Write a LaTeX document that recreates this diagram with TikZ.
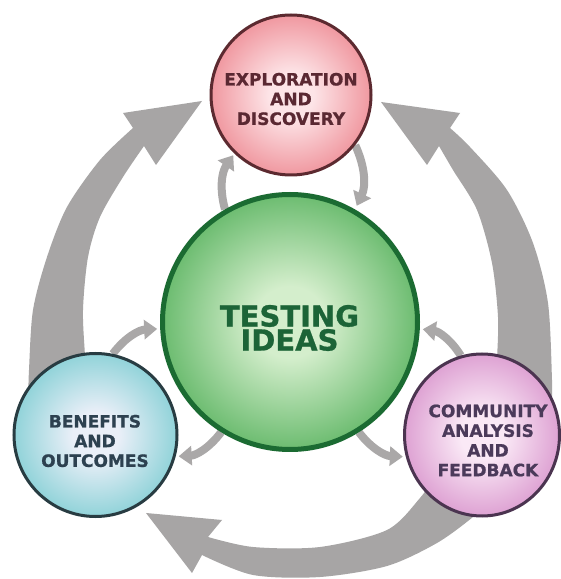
\documentclass[tikz,border=0pt]{standalone}
\usepackage{fontspec}
\setmainfont{DejaVu Sans}[BoldFeatures={FakeBold=0.9}]
\usetikzlibrary{arrows.meta,shapes.geometric,backgrounds}
\definecolor{arrowgray}{RGB}{167,165,165}
\definecolor{smallgray}{RGB}{170,168,168}
\definecolor{explIn}{RGB}{253,228,231}
\definecolor{explOut}{RGB}{240,152,160}
\definecolor{explBd}{RGB}{92,42,48}
\definecolor{explTx}{RGB}{90,40,50}
\definecolor{testIn}{RGB}{212,238,204}
\definecolor{testOut}{RGB}{108,188,112}
\definecolor{testBd}{RGB}{27,107,50}
\definecolor{testTx}{RGB}{28,100,55}
\definecolor{beneIn}{RGB}{234,239,248}
\definecolor{beneOut}{RGB}{145,211,217}
\definecolor{beneBd}{RGB}{40,60,66}
\definecolor{beneTx}{RGB}{45,65,80}
\definecolor{commIn}{RGB}{250,233,246}
\definecolor{commOut}{RGB}{222,162,211}
\definecolor{commBd}{RGB}{75,52,80}
\definecolor{commTx}{RGB}{75,58,90}
\colorlet{shIn}{white}
\colorlet{shOut}{gray}
\pgfdeclareradialshading[shIn,shOut]{softradial}{\pgfpointorigin}{color(0bp)=(shIn); color(7bp)=(shIn); color(25bp)=(shOut); color(50bp)=(shOut)}
\tikzset{
  bubble/.style={circle, line width=3pt, inner sep=0pt},
  soft/.style 2 args={/utils/exec={\colorlet{shIn}{#1}\colorlet{shOut}{#2}}, shading=softradial},
  smalltext/.style={font=\bfseries\fontsize{17}{19.7}\selectfont, align=center, inner sep=0pt},
  bigtext/.style={font=\bfseries\fontsize{29}{24}\selectfont, align=center, inner sep=0pt},
  smallarr/.style={draw=smallgray, line width=8pt, -{Triangle[width=19pt,length=13pt]}},
  bigarrow/.style={fill=arrowgray}
}
\begin{document}
\begin{tikzpicture}[x=1pt,y=1pt]
\useasboundingbox (0,0) rectangle (561,579);
% circles
\node[bubble, draw=explBd, soft={explIn}{explOut}, minimum size=160pt] (expl) at (291,484) {};
\node[bubble, draw=testBd, line width=5pt, soft={testIn}{testOut}, minimum size=255pt] (test) at (290,257) {};
\node[bubble, draw=beneBd, soft={beneIn}{beneOut}, minimum size=163pt] (bene) at (95.5,144) {};
\node[ellipse, line width=3pt, inner sep=0pt, draw=commBd, soft={commIn}{commOut}, minimum width=155pt, minimum height=162pt] (comm) at (482,144) {};
% texts
\node[smalltext, text=explTx] (explT) at (291,480) {EXPLORATION\\AND\\DISCOVERY};
\node[bigtext, text=testTx] (testT) at (289.5,251) {TESTING\\IDEAS};
\node[smalltext, text=beneTx] (beneT) at (95,138) {BENEFITS\\AND\\OUTCOMES};
\node[smalltext, text=commTx] (commT) at (488,138.5) {COMMUNITY\\ANALYSIS\\AND\\FEEDBACK};
\begin{scope}[on background layer]
\fill[white] (0,0) rectangle (561,579);
% big left arrow: Benefits -> Exploration
\fill[bigarrow] plot[smooth] coordinates {(28,174) (29,209) (33,269) (47,322) (67,372) (100,419) (133,451)}
  -- (123,466) -- (202,478) -- (156,414)
  -- plot[smooth] coordinates {(144,433) (123,402) (100,362) (88,322) (83,269) (85,222) (87,174)} -- cycle;
% big right arrow: Community -> Exploration
\fill[bigarrow] plot[smooth] coordinates {(552,174) (552,199) (548,276) (533,336) (507,389) (470,432) (450,451)}
  -- (460,466) -- (381,477) -- (427,414)
  -- plot[smooth] coordinates {(439,433) (453,409) (477,369) (492,316) (498,262) (497,219) (495,174)} -- cycle;
% big bottom arrow: Community -> Benefits
\fill[bigarrow] plot[smooth] coordinates {(440,109) (420,81) (387,49) (320,32) (253,32) (208,42)}
  -- (222,59) -- (146,66) -- (192,6)
  -- plot[smooth] coordinates {(202,24) (253,4) (320,2) (387,13) (437,36) (473,62) (490,79)} -- cycle;
% small arrows
\draw[smallarr, shorten >=2pt] (test.120) to[bend left=25] (expl.226);
\draw[smallarr, shorten >=4pt] (expl.-38) to[bend left=25] (test.60);
\draw[smallarr, shorten >=3pt] (bene.78) to[bend left=25] (test.183);
\draw[smallarr, shorten >=3pt] (test.238) to[bend left=25] (bene.-15);
\draw[smallarr, shorten >=3pt] (comm.105) to[bend right=25] (test.-3);
\draw[smallarr, shorten >=3pt] (test.-58) to[bend right=25] (comm.196);
\end{scope}
\end{tikzpicture}
\end{document}
